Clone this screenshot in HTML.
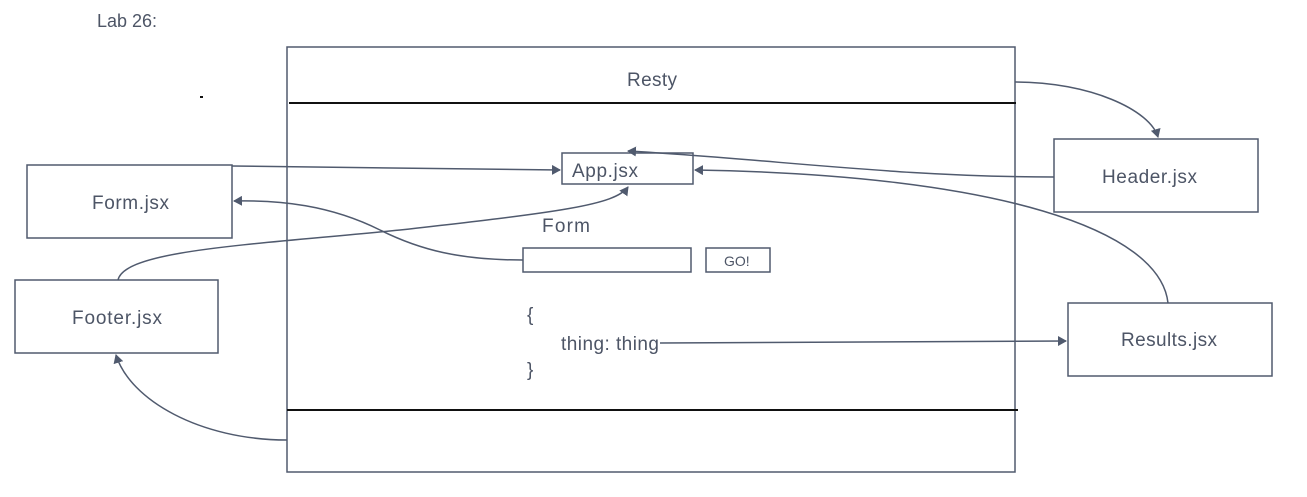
<!DOCTYPE html>
<html><head><style>
body{margin:0;background:#fff;}
svg{display:block;font-family:"Liberation Sans",sans-serif;}
text{fill:#4d5566;font-size:19px;}
</style></head><body>
<svg width="1307" height="497" viewBox="0 0 1307 497">
<defs>
<marker id="a" markerWidth="10" markerHeight="10" refX="8" refY="5" orient="auto" markerUnits="userSpaceOnUse">
<path d="M0,0 L9,5 L0,10 z" fill="#505a6e"/></marker>
</defs>
<g fill="none" stroke="#505a6e" stroke-width="1.5">
<rect x="287" y="47" width="728" height="425"/>
<rect x="562" y="153" width="131" height="31"/>
<rect x="27" y="165" width="205" height="73"/>
<rect x="15" y="280" width="203" height="73"/>
<rect x="1054" y="139" width="204" height="73"/>
<rect x="1068" y="303" width="204" height="73"/>
<rect x="523" y="248" width="168" height="24"/>
<rect x="706" y="248" width="64" height="24"/>
<path d="M1015,82 C1090,82 1150,110 1158,137" marker-end="url(#a)"/>
<path d="M1054,177 C900,177 780,160 628,151" marker-end="url(#a)"/>
<path d="M1168,303 C1160,230 1000,175 695,170" marker-end="url(#a)"/>
<path d="M232,166 L560,170" marker-end="url(#a)"/>
<path d="M118,280 C125,250 250,245 400,230 C560,212 615,205 628,187" marker-end="url(#a)"/>
<path d="M523,260 C460,260 420,250 380,230 C330,205 280,200 234,201" marker-end="url(#a)"/>
<path d="M660,343 L1066,341" marker-end="url(#a)"/>
<path d="M287,440 C200,440 130,400 116,355" marker-end="url(#a)"/>
</g>
<line x1="289" y1="103" x2="1016" y2="103" stroke="#111" stroke-width="2"/>
<line x1="287" y1="410" x2="1018" y2="410" stroke="#111" stroke-width="2"/>
<rect x="200" y="96" width="3" height="2" fill="#111"/>
<text x="97" y="27" style="font-size:18px">Lab 26:</text>
<text x="627" y="86" textLength="50">Resty</text>
<text x="572" y="177" textLength="66">App.jsx</text>
<text x="92" y="209" textLength="77">Form.jsx</text>
<text x="72" y="324" textLength="90">Footer.jsx</text>
<text x="1102" y="183" textLength="95">Header.jsx</text>
<text x="1121" y="346" textLength="96">Results.jsx</text>
<text x="542" y="232" textLength="48">Form</text>
<text x="724" y="266" style="font-size:14px">GO!</text>
<text x="527" y="321">{</text>
<text x="561" y="350" textLength="98">thing: thing</text>
<text x="527" y="376">}</text>
</svg>
</body></html>
